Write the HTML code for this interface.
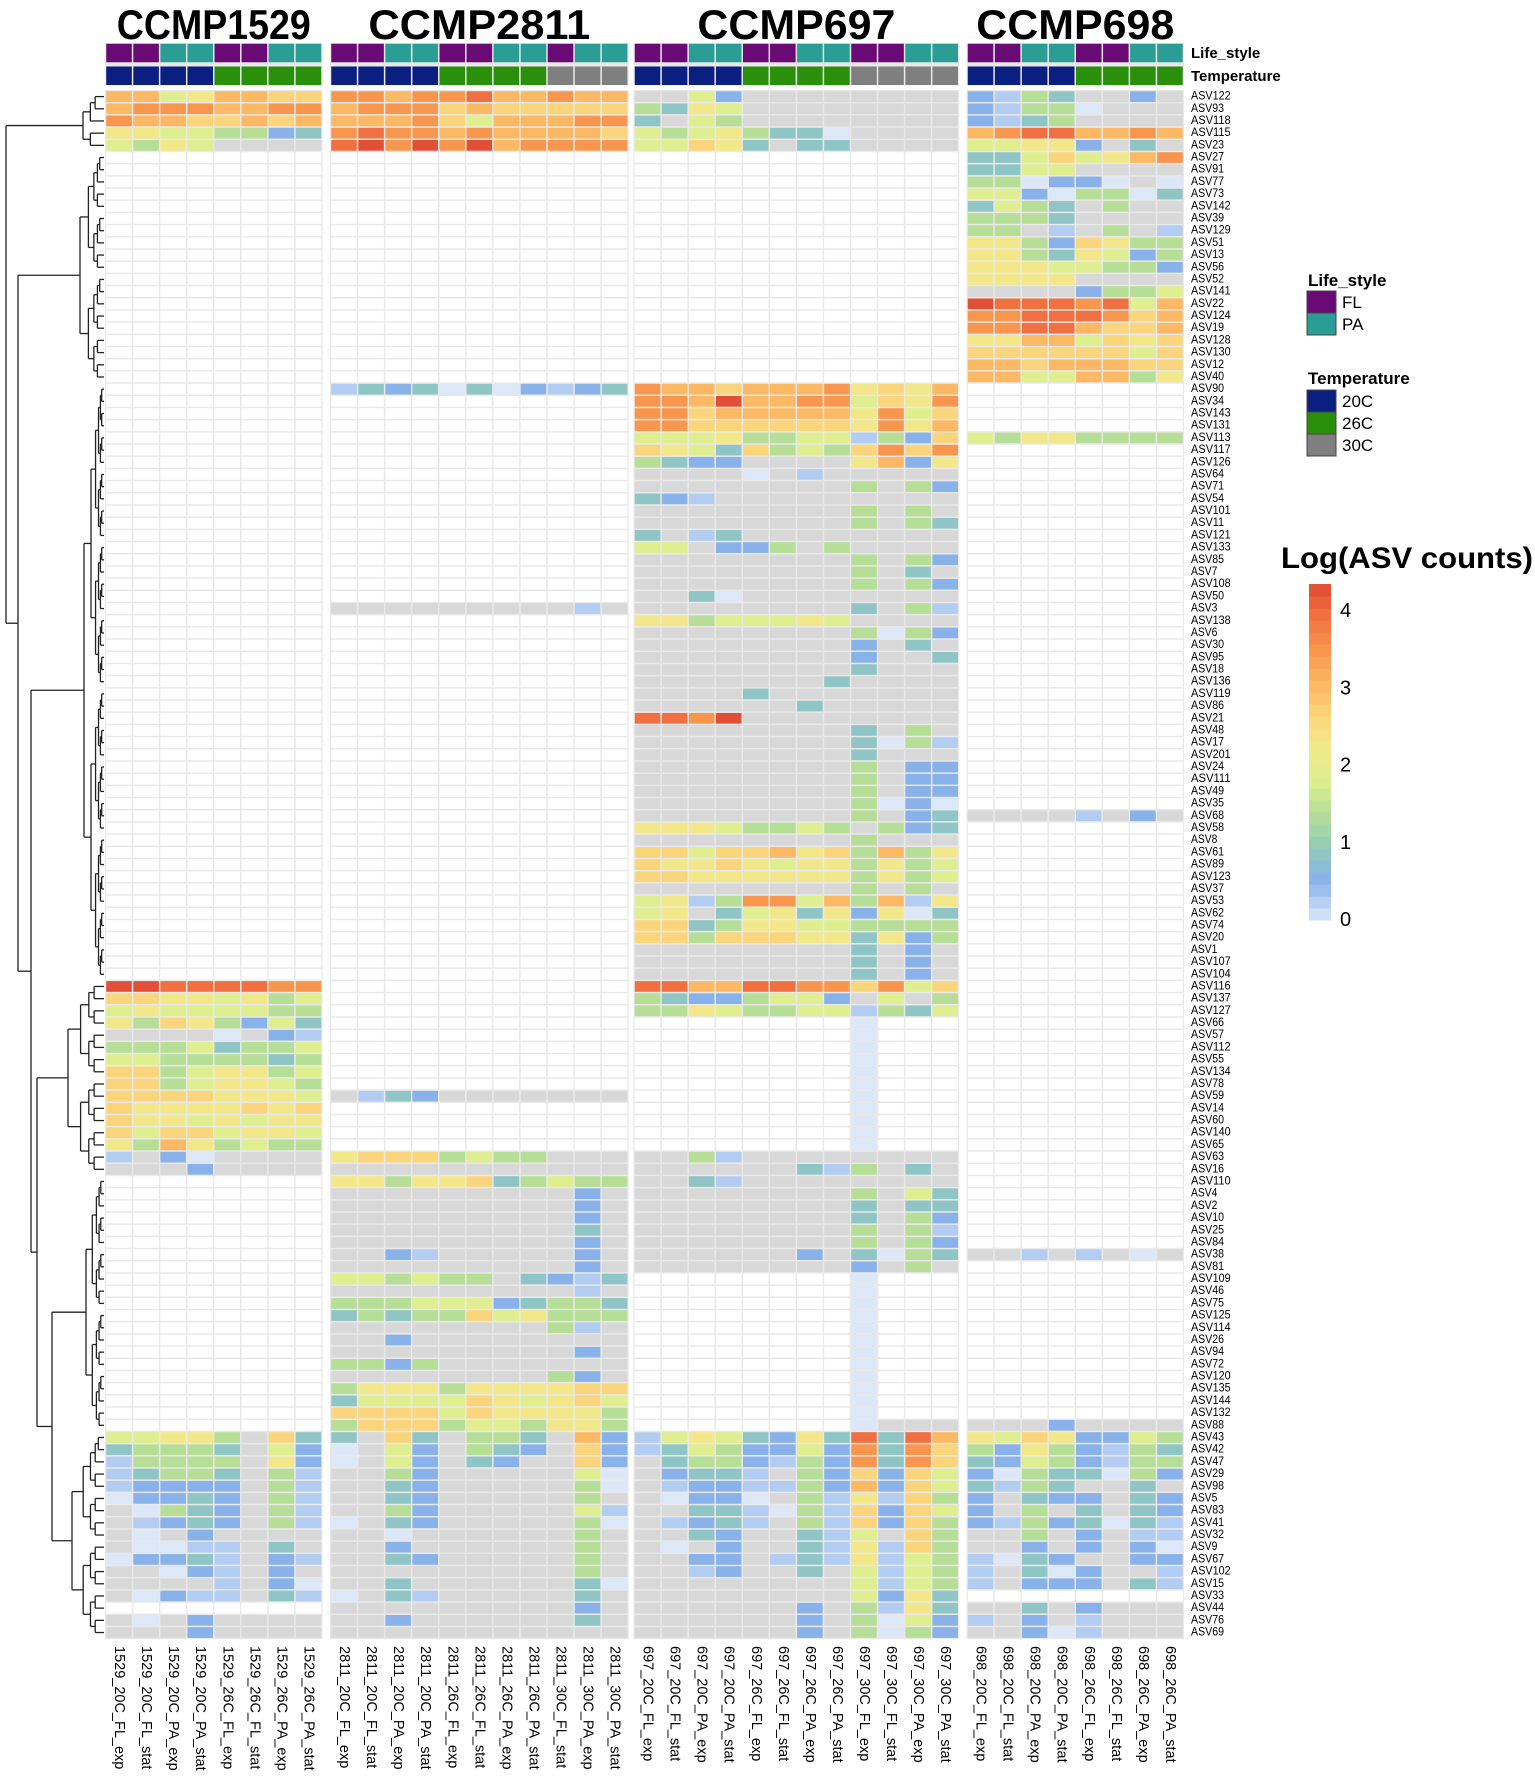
<!DOCTYPE html>
<html><head><meta charset="utf-8">
<style>
html,body{margin:0;padding:0;background:#fff;}
svg{display:block;font-family:"Liberation Sans",sans-serif;}
</style></head>
<body>
<svg id="chart" width="1535" height="1791" viewBox="0 0 1535 1791" xmlns="http://www.w3.org/2000/svg">
  <g id="titles"></g>
  <g id="annot"></g>
  <g id="cells"></g>
  <g id="dendro" stroke="#222" stroke-width="1.3" fill="none"></g>
  <g id="rowlabels"></g>
  <g id="collabels"></g>
  <text x="1191" y="58" font-size="15" font-weight="bold">Life_style</text>
  <text x="1191" y="81" font-size="15" font-weight="bold">Temperature</text>
  <g id="legend">
    <text x="1308" y="286" font-size="17" font-weight="bold">Life_style</text>
    <rect x="1307" y="291" width="29" height="22" fill="#6a0a74" stroke="#444" stroke-width="1"/>
    <rect x="1307" y="313" width="29" height="22" fill="#2a9d94" stroke="#444" stroke-width="1"/>
    <text x="1342" y="308" font-size="17">FL</text>
    <text x="1342" y="330" font-size="17">PA</text>
    <text x="1308" y="384" font-size="17" font-weight="bold">Temperature</text>
    <rect x="1307" y="390" width="29" height="22" fill="#0a1f80" stroke="#444" stroke-width="1"/>
    <rect x="1307" y="412" width="29" height="22" fill="#2a8f0a" stroke="#444" stroke-width="1"/>
    <rect x="1307" y="434" width="29" height="22" fill="#7f7f7f" stroke="#444" stroke-width="1"/>
    <text x="1342" y="407" font-size="17">20C</text>
    <text x="1342" y="429" font-size="17">26C</text>
    <text x="1342" y="451" font-size="17">30C</text>
    <text x="1281" y="568" font-size="30" font-weight="bold" textLength="252" lengthAdjust="spacingAndGlyphs">Log(ASV counts)</text>
    <g id="colorbar"></g>
  </g>
</svg>
<script>
const NS = "http://www.w3.org/2000/svg";
const rowNames = ["ASV122","ASV93","ASV118","ASV115","ASV23","ASV27","ASV91","ASV77","ASV73","ASV142","ASV39","ASV129","ASV51","ASV13","ASV56","ASV52","ASV141","ASV22","ASV124","ASV19","ASV128","ASV130","ASV12","ASV40","ASV90","ASV34","ASV143","ASV131","ASV113","ASV117","ASV126","ASV64","ASV71","ASV54","ASV101","ASV11","ASV121","ASV133","ASV85","ASV7","ASV108","ASV50","ASV3","ASV138","ASV6","ASV30","ASV95","ASV18","ASV136","ASV119","ASV86","ASV21","ASV48","ASV17","ASV201","ASV24","ASV111","ASV49","ASV35","ASV68","ASV58","ASV8","ASV61","ASV89","ASV123","ASV37","ASV53","ASV62","ASV74","ASV20","ASV1","ASV107","ASV104","ASV116","ASV137","ASV127","ASV66","ASV57","ASV112","ASV55","ASV134","ASV78","ASV59","ASV14","ASV60","ASV140","ASV65","ASV63","ASV16","ASV110","ASV4","ASV2","ASV10","ASV25","ASV84","ASV38","ASV81","ASV109","ASV46","ASV75","ASV125","ASV114","ASV26","ASV94","ASV72","ASV120","ASV135","ASV144","ASV132","ASV88","ASV43","ASV42","ASV47","ASV29","ASV98","ASV5","ASV83","ASV41","ASV32","ASV9","ASV67","ASV102","ASV15","ASV33","ASV44","ASV76","ASV69"];
const panelNames = ["CCMP1529","CCMP2811","CCMP697","CCMP698"];
const colNames = [
 ["1529_20C_FL_exp","1529_20C_FL_stat","1529_20C_PA_exp","1529_20C_PA_stat","1529_26C_FL_exp","1529_26C_FL_stat","1529_26C_PA_exp","1529_26C_PA_stat"],
 ["2811_20C_FL_exp","2811_20C_FL_stat","2811_20C_PA_exp","2811_20C_PA_stat","2811_26C_FL_exp","2811_26C_FL_stat","2811_26C_PA_exp","2811_26C_PA_stat","2811_30C_FL_stat","2811_30C_PA_exp","2811_30C_PA_stat"],
 ["697_20C_FL_exp","697_20C_FL_stat","697_20C_PA_exp","697_20C_PA_stat","697_26C_FL_exp","697_26C_FL_stat","697_26C_PA_exp","697_26C_PA_stat","697_30C_FL_exp","697_30C_FL_stat","697_30C_PA_exp","697_30C_PA_stat"],
 ["698_20C_FL_exp","698_20C_FL_stat","698_20C_PA_exp","698_20C_PA_stat","698_26C_FL_exp","698_26C_FL_stat","698_26C_PA_exp","698_26C_PA_stat"]
];
// cell codes: '.'=absent, 'n'=NA (grey), others = log count level
const codeValues = {"0":0,"a":0.25,"1":0.5,"2":0.85,"3":1.4,"4":1.85,"5":2.25,"6":2.65,"7":3.05,"8":3.5,"9":3.95,"x":4.3};
const heatRows = [
"77457766|88788977877|nn41nnnnnnnn|1a32nn1n",
"78887788|78886766666|3254nnnnnnnn|1a330nnn",
"87766767|77786477788|2n43nnnnnnnn|1a23nnnn",
"55443312|89887877776|43453220nnnn|78997787",
"4354nnnn|9x8x8x78888|44652n22nnnn|44551n2n",
"........|...........|............|22464578",
"........|...........|............|2244nnnn",
"........|...........|............|330110n0",
"........|...........|............|44103302",
"........|...........|............|2432n3nn",
"........|...........|............|3332nnnn",
"........|...........|............|33nan3na",
"........|...........|............|55316533",
"........|...........|............|55325413",
"........|...........|............|55544331",
"........|...........|............|5555nnnn",
"........|...........|............|nnnn1334",
"........|...........|............|x9998947",
"........|...........|............|88999867",
"........|...........|............|88997667",
"........|...........|............|55774656",
"........|...........|............|66666646",
"........|...........|............|77677766",
"........|...........|............|77447735",
"........|a2120201a12|877677785657|........",
"........|...........|887x77884658|........",
"........|...........|886777775846|........",
"........|...........|886666665857|........",
"........|...........|44453344a316|43553333",
"........|...........|654263436868|........",
"........|...........|3211nnnn5715|........",
"........|...........|nnnn0nannnnn|........",
"........|...........|nnnnnnnn3n31|........",
"........|...........|21annnnnnnnn|........",
"........|...........|nnnnnnnn3n3n|........",
"........|...........|nnnnnnnn3n32|........",
"........|...........|2na2nnnnnnnn|........",
"........|...........|44n113n3nnnn|........",
"........|...........|nnnnnnnn3n31|........",
"........|...........|nnnnnnnn3n2n|........",
"........|...........|nnnnnnnn3n31|........",
"........|...........|nn20nnnnnnnn|........",
"........|nnnnnnnnnan|nnnnnnnn2n3a|........",
"........|...........|55344454nnnn|........",
"........|...........|nnnnnnnn3031|........",
"........|...........|nnnnnnnn1n2n|........",
"........|...........|nnnnnnnn1nn2|........",
"........|...........|nnnnnnnn2nnn|........",
"........|...........|nnnnnnn2nnnn|........",
"........|...........|nnnn2nnnnnnn|........",
"........|...........|nnnnnn2nnnnn|........",
"........|...........|998xnnnnnnnn|........",
"........|...........|nnnnnnnn2n3n|........",
"........|...........|nnnnnnnn203a|........",
"........|...........|nnnnnnnn2nnn|........",
"........|...........|nnnnnnnn3n11|........",
"........|...........|nnnnnnnn3n11|........",
"........|...........|nnnnnnnn3n11|........",
"........|...........|nnnnnnnn3010|........",
"........|...........|nnnnnnnn3n12|nnnnan1n",
"........|...........|55543343n312|........",
"........|...........|nnnnnnnn3nnn|........",
"........|...........|664667563735|........",
"........|...........|655654553534|........",
"........|...........|665555553534|........",
"........|...........|nnnnnnnn3n3n|........",
"........|...........|45a3884737a5|........",
"........|...........|45n245251502|........",
"........|...........|662355443333|........",
"........|...........|663666552513|........",
"........|...........|nnnnnnnn2n1n|........",
"........|...........|nnnnnnnn2n1n|........",
"........|...........|nnnnnnnn2n1n|........",
"xx999988|...........|997799886846|........",
"66554534|...........|32113441n4n3|........",
"45444433|...........|33543344a324|........",
"53653142|...........|........0...|........",
"nnnn0n1a|...........|........0...|........",
"33342334|...........|........0...|........",
"44333323|...........|........0...|........",
"66345534|...........|........0...|........",
"66345543|...........|........0...|........",
"66665554|na21nnnnnnn|........0...|........",
"65555656|...........|........0...|........",
"65545455|...........|........0...|........",
"64664554|...........|........0...|........",
"53753433|...........|........0...|........",
"an10nnnn|56663433nnn|nn3annnnnnnn|........",
"nnn1nnnn|nnnnnnnnnnn|nnnnnn2a3n2n|........",
"........|55355623433|nn2annnnnnnn|........",
"........|nnnnnnnnn1n|nnnnnnnn3n42|........",
"........|nnnnnnnnn1n|nnnnnnnn2n22|........",
"........|nnnnnnnnn1n|nnnnnnnn2n31|........",
"........|nnnnnnnnn2n|nnnnnnnn3n3a|........",
"........|nnnnnnnnn1n|nnnnnnnn3n31|........",
"........|nn1annnnn1n|nnnnnn1n2032|nnanan0n",
"........|nnnnnnnnn1n|nnnnnnnn1n3n|........",
"........|443433n21a2|........0...|........",
"........|nnnnnnnnnan|........0...|........",
"........|33344412332|........0...|........",
"........|23233645333|........0...|........",
"........|nnnnnnnn3an|........0...|........",
"........|nn1nnnnnnnn|........0...|........",
"........|nnnnnnnnn1n|........0...|........",
"........|3313nnnnnnn|........0...|........",
"........|nnnnnnnn31n|........0...|........",
"........|35553555566|........0...|........",
"........|24444654564|........0...|........",
"........|66664655553|........0...|........",
"........|36663443553|........0nnn|nnn1nnnn",
"44553n62|2n62n332n71|a45421529297|54651143",
"23332n41|0n41n321n61|a24311418286|31531a32",
"a3333n51|0n41n21nn61|n2331a318286|21431a33",
"a2332n3a|nn31nnnnn40|n122an316164|10322031",
"a1111n3a|nn21nnnnn30|na11aa317164|2a32nn2n",
"01121n3a|nn21nnnnn3n|n0110n3a5a63|1n211n21",
"n0321n3a|nn31nnnnn4a|nn22a03a6164|1n3n2n21",
"na121n3a|0n21nnnnn30|na12an3a6163|1a31202a",
"n0n1nnnn|nn0nnnnnn3n|nn21nn2a4n63|nn3n1naa",
"n00aan2n|nn1nnnnnn3n|n0n1nn2a5a63|nn1n1n10",
"0112an1a|nn21nnnnn3n|nn11na2a5a43|a021nn11",
"nn01an1n|nnnnnnnnn3n|nna1nn2n4a43|an201nna",
"nnnnan10|nn2nnnnnn20|nnnnnnnn4a43|an111n2a",
"n01aan2a|0n2annnnn2n|nnnnnnnn4152|........",
"........|nnnnnnnnn1n|nnnnnn1n3a52|nn2n1nnn",
"n0n1nnnn|nn1nnnnnn2n|nnnnnn1n3041|an1nannn",
"nnn1nnnn|nnnnnnnnnnn|nnnnnn1n3031|nn10annn"
];
const colorTicks = [0,1,2,3,4];
const scaleMax = 4.35;

// ---- geometry ----
const panelX = [105.5, 330.5, 634, 967];
const colW = 27.06;
const rowTop = 90.5, rowH = 12.19;
const lifeColors = {FL:"#6a0a74", PA:"#2a9d94"};
const tempColors = {"20C":"#0a1f80","26C":"#2a8f0a","30C":"#7f7f7f"};
const stops = [[0,"#dce7f8"],[0.25,"#b3cdf2"],[0.5,"#89b2ea"],[0.8,"#8ec2cc"],[1.0,"#96ceb0"],[1.4,"#b6de97"],[1.8,"#dcef8f"],[2.2,"#f2ea8b"],[2.6,"#fbd87e"],[3.0,"#fcbc65"],[3.5,"#f9964e"],[4.0,"#f06c3f"],[4.35,"#e04a34"]];
function hex(c){return [1,3,5].map(i=>parseInt(c.substr(i,2),16));}
function colorFor(v){
  if(v<=stops[0][0]) return stops[0][1];
  for(let k=1;k<stops.length;k++){
    if(v<=stops[k][0]){
      const t=(v-stops[k-1][0])/(stops[k][0]-stops[k-1][0]);
      const a=hex(stops[k-1][1]), b=hex(stops[k][1]);
      return "rgb("+a.map((x,j)=>Math.round(x+(b[j]-x)*t)).join(",")+")";
    }
  }
  return stops[stops.length-1][1];
}
function xCol(p,c){return panelX[p]+c*colW;}
function yRow(i){return rowTop+i*rowH;}
function mk(tag,attrs,parent){const e=document.createElementNS(NS,tag);for(const k in attrs)e.setAttribute(k,attrs[k]);parent.appendChild(e);return e;}

const gCells=document.getElementById("cells");
const gAnnot=document.getElementById("annot");
const gTitles=document.getElementById("titles");
const gRow=document.getElementById("rowlabels");
const gCol=document.getElementById("collabels");

const parsed = heatRows.map(r=>r.split("|"));
panelNames.forEach((pn,p)=>{
  const n=colNames[p].length, w=n*colW;
  const bg=mk("rect",{x:panelX[p]-0.5,y:rowTop-0.5,width:w+1,height:rowH*rowNames.length+1,fill:"#e9e9e9"},gCells);
  
  
  const t=mk("text",{x:panelX[p]+w/2,y:39,"text-anchor":"middle","font-size":42,"font-weight":"bold",textLength:(p==1?222:(p==0?194:198)),lengthAdjust:"spacingAndGlyphs"},gTitles);
  t.textContent=pn;
  
  
  const abg=mk("rect",{x:panelX[p]-0.5,y:43,width:w+1,height:42.5,fill:"#e9e9e9"},gAnnot);
  
  
  colNames[p].forEach((cn,c)=>{
    const parts=cn.split("_");
    const life=parts[2], temp=parts[1];
    const a=mk("rect",{x:xCol(p,c)+0.75,y:43.75,width:colW-1.5,height:18.5,fill:lifeColors[life]},gAnnot);
    
    
    const b=mk("rect",{x:xCol(p,c)+0.75,y:66.5,width:colW-1.5,height:18.5,fill:tempColors[temp]},gAnnot);
    
    
    const lt=mk("text",{x:0,y:0,"font-size":14.5,"dominant-baseline":"central",transform:"translate("+(xCol(p,c)+colW/2)+",1646) rotate(90)"},gCol);
    lt.textContent=cn;
    
    
  });
  parsed.forEach((row,i)=>{
    const s=row[p];
    for(let c=0;c<n;c++){
      const ch=s[c];
      let fill;
      if(ch==="."||ch===undefined) fill="#ffffff";
      else if(ch==="n") fill="#d8d8d8";
      else fill=colorFor(codeValues[ch]);
      const r=mk("rect",{x:xCol(p,c)+0.75,y:yRow(i)+0.75,width:colW-1.5,height:rowH-1.5,fill:fill},gCells);
      
      
    }
  });
});
rowNames.forEach((nm,i)=>{
  const t=mk("text",{x:1191,y:yRow(i)+rowH/2,"font-size":11.5,"dominant-baseline":"central",textLength:nm.length*6.6,lengthAdjust:"spacingAndGlyphs"},gRow);
  t.textContent=nm;
  
  
});
const gD=document.getElementById("dendro");
const leafX=104;
function yc(i){return yRow(i)+rowH/2;}
function line(x1,y1,x2,y2){const l=mk("line",{x1:x1,y1:y1,x2:x2,y2:y2},gD);}
function clusterNode(lo,hi,x){
  if(lo===hi) return yc(lo);
  const m=Math.floor((lo+hi)/2);
  const halves=[[lo,m],[m+1,hi]];
  const ys=halves.map(h=>{
    const cx=(h[0]===h[1])?leafX:x+(leafX-x)*0.35;
    const y=clusterNode(h[0],h[1],cx);
    line(x,y,cx,y);
    return y;
  });
  line(x,ys[0],x,ys[1]);
  return (ys[0]+ys[1])/2;
}
const tree={x:6,kids:[{x:83,lo:0,hi:4},{x:18,kids:[{x:80,lo:5,hi:23},{x:31,kids:[{x:84,lo:24,hi:72},{x:37,kids:[{x:68,lo:73,hi:88},{x:52,kids:[{x:86,lo:89,hi:109},{x:72,lo:110,hi:126}]}]}]}]}]};
function node(n){
  if(n.kids){
    const ys=n.kids.map(k=>{const y=node(k);line(n.x,y,k.x,y);return y;});
    line(n.x,ys[0],n.x,ys[ys.length-1]);
    return (ys[0]+ys[ys.length-1])/2;
  }
  return clusterNode(n.lo,n.hi,n.x);
}
node(tree);
// colorbar
const gCB=document.getElementById("colorbar");
const cbTop=584, cbBot=920, cbX=1309, cbW=22;
function yScale(v){return cbBot-(v/scaleMax)*(cbBot-cbTop);}
const nb=28;
for(let k=0;k<nb;k++){
  const v0=k*scaleMax/nb, v1=(k+1)*scaleMax/nb;
  const r=mk("rect",{x:cbX,y:yScale(v1),width:cbW,height:yScale(v0)-yScale(v1)+0.5,fill:colorFor((v0+v1)/2)},gCB);
  
  
}
colorTicks.forEach(v=>{
  const t=mk("text",{x:1340,y:yScale(v),"font-size":20,"dominant-baseline":"central"},gCB);
  t.textContent=String(v);
  
  
});
</script>
</body></html>
